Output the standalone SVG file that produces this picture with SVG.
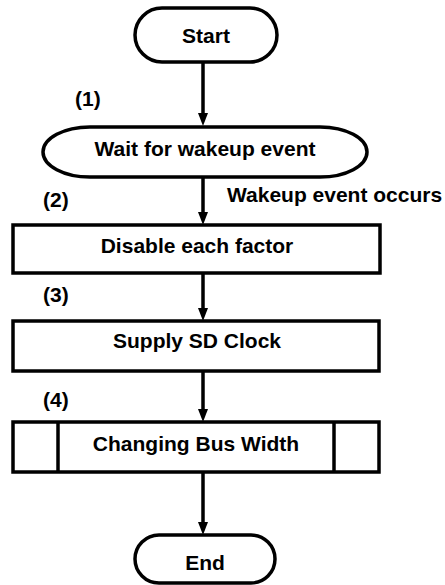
<svg xmlns="http://www.w3.org/2000/svg" width="445" height="585" viewBox="0 0 445 585">
<style>
.s{fill:#fff;stroke:#000;stroke-width:3.5}
.t{font-family:"Liberation Sans",Arial,sans-serif;font-weight:bold;font-size:21px;fill:#000}
.c{text-anchor:middle}
.e{stroke:#000;stroke-width:3.5;fill:none}
.a{marker-end:url(#ah)}
</style>
<defs>
<marker id="ah" markerUnits="userSpaceOnUse" markerWidth="14" markerHeight="12" viewBox="0 0 14 12" refX="0" refY="6" orient="auto">
<path d="M0,1 L13,6 L0,11 Z" fill="#000"/>
</marker>
</defs>
<rect width="445" height="585" fill="#fff"/>
<g id="connectors">
<line class="e a" x1="203" y1="62" x2="203" y2="113"/>
<line class="e a" x1="203" y1="177" x2="203" y2="212"/>
<line class="e a" x1="203" y1="273" x2="203" y2="308"/>
<line class="e a" x1="203" y1="371" x2="203" y2="409"/>
<line class="e a" x1="203" y1="472" x2="203" y2="522"/>
</g>
<g id="start">
<rect class="s" x="135" y="8" width="142" height="54" rx="27"/>
<text class="t c" x="206" y="43">Start</text>
</g>
<g id="wait">
<path class="s" d="M90,127 H320 A47,25 0 0 1 320,177 H90 A47,25 0 0 1 90,127 Z"/>
<text class="t c" x="205" y="156">Wait for wakeup event</text>
</g>
<g id="disable">
<rect class="s" x="13" y="225" width="367" height="48"/>
<text class="t c" x="197" y="253">Disable each factor</text>
</g>
<g id="supply">
<rect class="s" x="13" y="321" width="366" height="50"/>
<text class="t c" x="197" y="348">Supply SD Clock</text>
</g>
<g id="changing">
<rect class="s" x="13" y="422" width="366" height="50"/>
<line class="e" x1="58" y1="422" x2="58" y2="472"/>
<line class="e" x1="334" y1="422" x2="334" y2="472"/>
<text class="t c" x="196" y="451">Changing Bus Width</text>
</g>
<g id="end">
<rect class="s" x="135" y="535" width="140" height="48" rx="24"/>
<text class="t c" x="205" y="570">End</text>
</g>
<g id="labels">
<text class="t" x="75" y="106">(1)</text>
<text class="t" x="43" y="207">(2)</text>
<text class="t" x="227" y="202">Wakeup event occurs</text>
<text class="t" x="43" y="302">(3)</text>
<text class="t" x="43" y="407">(4)</text>
</g>
</svg>
